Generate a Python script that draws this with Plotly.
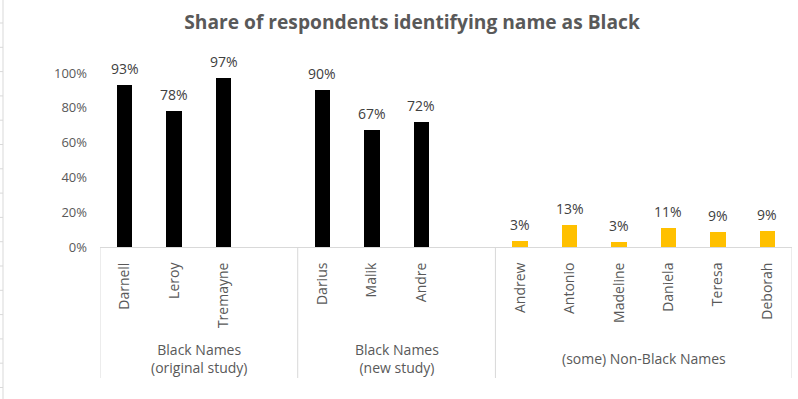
import plotly.graph_objects as go

# ---- data ----
groups = ["Black Names<br>(original study)", "Black Names<br>(new study)", "(some) Non-Black Names"]
group_names = [
    ["Darnell", "Leroy", "Tremayne"],
    ["Darius", "Malik", "Andre"],
    ["Andrew", "Antonio", "Madeline", "Daniela", "Teresa", "Deborah"],
]
group_values = [
    [0.93, 0.78, 0.97],
    [0.90, 0.67, 0.72],
    [0.034, 0.126, 0.029, 0.109, 0.086, 0.092],
]
group_colors = ["#000000", "#000000", "#FFC000"]
y_ticks = [0, 0.2, 0.4, 0.6, 0.8, 1.0]
y_ticklabels = ["0%", "20%", "40%", "60%", "80%", "100%"]
title = "Share of respondents identifying name as Black"

FONT = "Open Sans"
GRAY = "#595959"

W, H = 798, 399
L, R, T, B = 100, 6, 73, 152
plot_w = W - L - R
plot_h = H - T - B

fig = go.Figure()

# slot layout: groups 1 and 2 get one blank slot after them
slot = 0
tickvals, ticktext = [], []
bounds = [-0.5]
group_centers = []
annotations = []
for gi, (names, vals) in enumerate(zip(group_names, group_values)):
    start = slot
    xs = list(range(slot, slot + len(names)))
    fig.add_trace(go.Bar(
        x=xs, y=vals, marker=dict(color=group_colors[gi], line=dict(width=0)),
        width=0.31, showlegend=False,
    ))
    for x, v in zip(xs, vals):
        annotations.append(dict(x=x, y=v, xref="x", yref="y", text=f"{round(v*100):d}%",
                                showarrow=False, yanchor="bottom", yshift=5,
                                font=dict(family=FONT, size=14, color="#404040")))
    tickvals += xs
    ticktext += names
    slot += len(names)
    if gi < len(group_names) - 1:
        slot += 1
    bounds.append(slot - 0.5)
    group_centers.append((start - 0.5 + slot - 0.5) / 2)

n_slots = slot

shapes = []
# separators of the category axis
for b in bounds:
    shapes.append(dict(type="line", xref="x", yref="paper", x0=b, x1=b,
                       y0=0, y1=-(378 - (H - B)) / plot_h,
                       line=dict(color="#D9D9D9", width=1)))

# spreadsheet edge at far left
def px_x(px):
    return (px - L) / plot_w

def px_y(py):
    return (H - B - py) / plot_h

shapes.append(dict(type="line", xref="paper", yref="paper", x0=px_x(3), x1=px_x(3),
                   y0=px_y(0), y1=px_y(H), line=dict(color="#D9D9D9", width=1)))
k = 0
while 23 + 24.3 * k < H:
    yy = 23 + 24.3 * k
    shapes.append(dict(type="line", xref="paper", yref="paper", x0=px_x(0), x1=px_x(3),
                       y0=px_y(yy), y1=px_y(yy), line=dict(color="#D9D9D9", width=1)))
    k += 1

for gc, gl in zip(group_centers, groups):
    annotations.append(dict(x=gc, y=px_y(358), xref="x", yref="paper", text=gl,
                            showarrow=False, font=dict(family=FONT, size=14, color=GRAY),
                            align="center", yanchor="middle"))

fig.update_layout(
    width=W, height=H,
    margin=dict(l=L, r=R, t=T, b=B),
    paper_bgcolor="white", plot_bgcolor="white",
    title=dict(text=f"<b>{title}</b>", x=412 / W, xanchor="center",
               y=1 - 22 / H, yanchor="middle",
               font=dict(family=FONT, size=19.2, color=GRAY)),
    xaxis=dict(range=[-0.5, n_slots - 0.5], tickvals=tickvals, ticktext=ticktext,
               tickangle=-90, showgrid=False, zeroline=False, showline=True,
               linecolor="#D9D9D9", linewidth=1, ticks="", ticklabelstandoff=9,
               automargin=False,
               tickfont=dict(family=FONT, size=14, color=GRAY)),
    yaxis=dict(range=[0, 1.0], tickvals=y_ticks, ticktext=y_ticklabels,
               showgrid=False, zeroline=False, showline=False, ticks="",
               ticklabelstandoff=12, automargin=False,
               tickfont=dict(family=FONT, size=13, color=GRAY)),
    shapes=shapes, annotations=annotations,
    bargap=0,
)

fig.write_html("out.html", config={"displayModeBar": False},
               post_script="document.body.style.margin='0';document.body.style.overflow='hidden';")
